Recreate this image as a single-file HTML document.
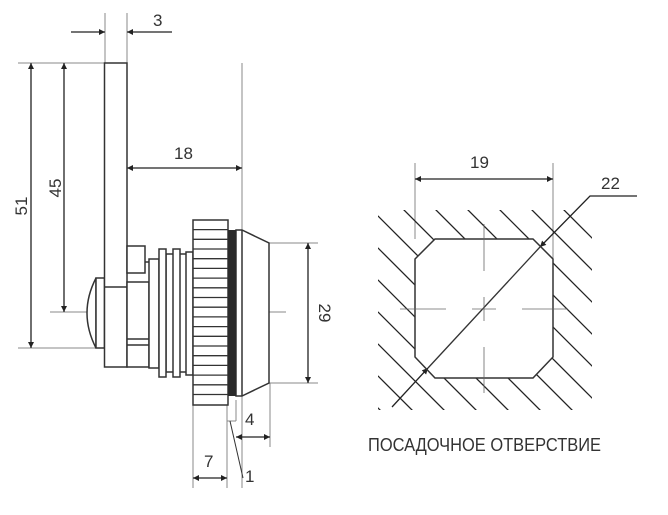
<!DOCTYPE html>
<html><head><meta charset="utf-8"><style>
html,body{margin:0;padding:0;background:#fff;}
svg{display:block;}
text{font-family:"Liberation Sans",sans-serif;fill:#333;}
</style></head><body>
<svg width="668" height="515" viewBox="0 0 668 515" xmlns="http://www.w3.org/2000/svg">
<defs>
<marker id="a" viewBox="0 0 10 10" refX="10" refY="5" markerWidth="14" markerHeight="6" markerUnits="userSpaceOnUse" orient="auto-start-reverse"><path d="M0,0 L10,5 L0,10 z" fill="#222"/></marker>
<clipPath id="hc"><path clip-rule="evenodd" d="M378,210 H592 V410 H378 Z M435,239 H533 L553,259 V357 L533,378 H435 L415,357 V259 Z"/></clipPath>
</defs>
<g stroke="#888" stroke-width="1" fill="none">
<!-- extension / center lines -->
<line x1="105" y1="13" x2="105" y2="63"/>
<line x1="127" y1="13" x2="127" y2="63"/>
<line x1="18" y1="63" x2="105" y2="63"/>
<line x1="242" y1="63" x2="242" y2="488"/>
<line x1="50" y1="312" x2="286" y2="312"/>
<line x1="18" y1="348" x2="96" y2="348"/>
<line x1="269" y1="243" x2="318" y2="243"/>
<line x1="269" y1="383" x2="318" y2="383"/>
<line x1="193" y1="405" x2="193" y2="488"/>
<line x1="227" y1="405" x2="227" y2="488"/>
<line x1="236" y1="400" x2="236" y2="421"/>
<line x1="270" y1="383" x2="270" y2="447"/>
<line x1="227" y1="421" x2="236" y2="421"/>
<line x1="415" y1="163" x2="415" y2="239"/>
<line x1="553" y1="163" x2="553" y2="259"/>
</g>
<!-- dimensions -->
<g stroke="#222" stroke-width="1.3" fill="none">
<line x1="71" y1="32" x2="105" y2="32" marker-end="url(#a)"/>
<line x1="172" y1="32" x2="127" y2="32" marker-end="url(#a)"/>
<line x1="31" y1="63" x2="31" y2="348" marker-start="url(#a)" marker-end="url(#a)"/>
<line x1="64" y1="63" x2="64" y2="312" marker-start="url(#a)" marker-end="url(#a)"/>
<line x1="127" y1="168" x2="242" y2="168" marker-start="url(#a)" marker-end="url(#a)"/>
<line x1="308" y1="243" x2="308" y2="383" marker-start="url(#a)" marker-end="url(#a)"/>
<line x1="236" y1="437" x2="270" y2="437" marker-start="url(#a)" marker-end="url(#a)"/>
<line x1="193" y1="478" x2="227" y2="478" marker-start="url(#a)" marker-end="url(#a)"/>
<line x1="415" y1="179" x2="553" y2="179" marker-start="url(#a)" marker-end="url(#a)"/>
<polyline points="637,196 590,196 540,247" marker-end="url(#a)"/>
<line x1="392" y1="407" x2="428" y2="368" marker-end="url(#a)"/>
</g>
<line x1="230" y1="421" x2="243" y2="478" stroke="#333" stroke-width="1"/>
<!-- lock body -->
<g stroke="#333" stroke-width="1.5" fill="#fff">
<path d="M96,278 Q78,313 96,348 Z"/>
<rect x="96" y="278" width="8.5" height="70"/>
<rect x="104.5" y="63" width="22.5" height="304"/>
<line x1="104.5" y1="287" x2="127" y2="287"/>
<rect x="127" y="246" width="18" height="27"/>
<polyline points="145,262 150,262 150,259"/>
<rect x="127" y="282" width="22" height="85"/>
<line x1="127" y1="339" x2="149" y2="339"/>
<line x1="127" y1="345" x2="149" y2="345"/>
<rect x="149" y="259" width="10" height="109"/>
<rect x="166" y="254" width="21" height="118"/>
<rect x="159" y="249" width="7" height="128"/>
<rect x="173" y="249" width="7" height="128"/>
<rect x="186" y="252" width="7" height="123"/>
<rect x="193" y="220" width="35" height="185"/>
<path d="M236,230 L242,230 L269,243 L269,383 L242,396 L236,396 Z"/>
<line x1="242" y1="230" x2="242" y2="396"/>
</g>
<rect x="228" y="230" width="8" height="166" fill="#2a2a2a"/>
<g stroke="#333" stroke-width="1.3">
<line x1="193" y1="229.6" x2="228" y2="229.6"/><line x1="193" y1="239.3" x2="228" y2="239.3"/><line x1="193" y1="249" x2="228" y2="249"/><line x1="193" y1="258.7" x2="228" y2="258.7"/><line x1="193" y1="268.4" x2="228" y2="268.4"/><line x1="193" y1="278.1" x2="228" y2="278.1"/><line x1="193" y1="287.8" x2="228" y2="287.8"/><line x1="193" y1="297.5" x2="228" y2="297.5"/><line x1="193" y1="307.2" x2="228" y2="307.2"/><line x1="193" y1="316.9" x2="228" y2="316.9"/><line x1="193" y1="326.6" x2="228" y2="326.6"/><line x1="193" y1="336.3" x2="228" y2="336.3"/><line x1="193" y1="346" x2="228" y2="346"/><line x1="193" y1="355.7" x2="228" y2="355.7"/><line x1="193" y1="365.4" x2="228" y2="365.4"/><line x1="193" y1="375.1" x2="228" y2="375.1"/><line x1="193" y1="384.8" x2="228" y2="384.8"/><line x1="193" y1="394.5" x2="228" y2="394.5"/>
</g>
<!-- hatching -->
<g clip-path="url(#hc)" stroke="#222" stroke-width="1.3">
<line x1="280" y1="150" x2="580" y2="450"/><line x1="312" y1="150" x2="612" y2="450"/><line x1="344" y1="150" x2="644" y2="450"/><line x1="376" y1="150" x2="676" y2="450"/><line x1="408" y1="150" x2="708" y2="450"/><line x1="440" y1="150" x2="740" y2="450"/><line x1="472" y1="150" x2="772" y2="450"/><line x1="504" y1="150" x2="804" y2="450"/><line x1="536" y1="150" x2="836" y2="450"/><line x1="248" y1="150" x2="548" y2="450"/><line x1="216" y1="150" x2="516" y2="450"/><line x1="184" y1="150" x2="484" y2="450"/><line x1="152" y1="150" x2="452" y2="450"/><line x1="120" y1="150" x2="420" y2="450"/>
</g>
<path d="M435,239 H533 L553,259 V357 L533,378 H435 L415,357 V259 Z" fill="none" stroke="#333" stroke-width="1.5"/>
<line x1="428" y1="368" x2="540" y2="247" stroke="#333" stroke-width="1.3"/>
<g stroke="#666" stroke-width="0.8">
<line x1="400" y1="309" x2="446" y2="309"/><line x1="472" y1="309" x2="496" y2="309"/><line x1="522" y1="309" x2="568" y2="309"/>
<line x1="484" y1="224" x2="484" y2="271"/><line x1="484" y1="297" x2="484" y2="321"/><line x1="484" y1="347" x2="484" y2="393"/>
</g>
<!-- labels -->
<g font-size="17">
<text x="153" y="26">3</text>
<text x="174" y="159">18</text>
<text x="470" y="168">19</text>
<text x="601" y="189">22</text>
<text x="245" y="425">4</text>
<text x="204" y="467">7</text>
<text x="245" y="482">1</text>
<text transform="translate(27,206) rotate(-90)" text-anchor="middle">51</text>
<text transform="translate(61,188) rotate(-90)" text-anchor="middle">45</text>
<text transform="translate(319,313) rotate(90)" text-anchor="middle">29</text>
<text x="368" y="451" font-size="18" textLength="233" lengthAdjust="spacingAndGlyphs">ПОСАДОЧНОЕ ОТВЕРСТВИЕ</text>
</g>
</svg>
</body></html>
